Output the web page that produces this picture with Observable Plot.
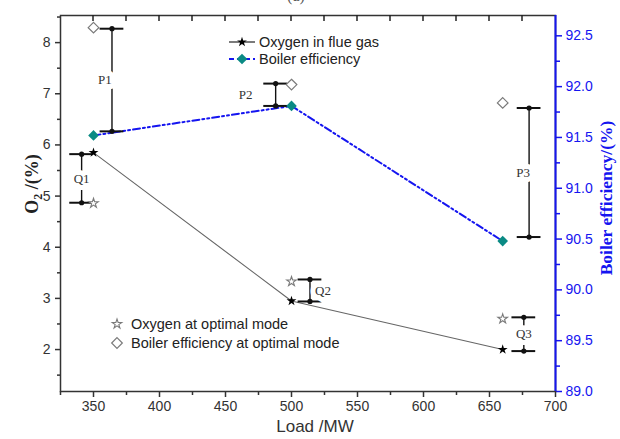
<!DOCTYPE html>
<html>
<head>
<meta charset="utf-8">
<script src="https://cdn.jsdelivr.net/npm/d3@7"></script>
<script src="https://cdn.jsdelivr.net/npm/@observablehq/plot@0.6"></script>
<style>
  body { margin: 0; background: #fff; }
  #chart svg { display: block; }
</style>
</head>
<body>
<div id="chart"></div>
<script>
// Unit load (MW) of the three test cases
const loads = [350, 500, 660];
// Measured O2 in flue gas (%) and boiler efficiency (%)
const o2Actual = [5.85, 2.95, 2.00];
const effActual = [91.52, 91.81, 90.48];
// The same quantities at the optimal operating mode
const o2Optimal = [4.86, 3.33, 2.60];
const effOptimal = [92.58, 92.02, 91.84];

// Bracket annotations: P = efficiency gain, Q = oxygen reduction
const bracketNames = ["P1", "P2", "P3", "Q1", "Q2", "Q3"];
const bracketLoads = [364, 488, 680, 341, 514, 676];
const bracketHigh = [92.57, 92.03, 91.79, 5.82, 3.37, 2.63];
const bracketLow = [91.56, 91.81, 90.52, 4.87, 2.94, 1.97];
const bracketAxis = ["eff", "eff", "eff", "o2", "o2", "o2"];

// Axis ticks
const xTicks = [350, 400, 450, 500, 550, 600, 650, 700];
const o2Ticks = [2, 3, 4, 5, 6, 7, 8];
const effTicks = [89.0, 89.5, 90.0, 90.5, 91.0, 91.5, 92.0, 92.5];

const xDomain = [325, 700];
const o2Domain = [1.18, 8.53];
const effDomain = [89.0, 92.7];

// The efficiency axis on the right shares the plot's y scale through this map
const effToO2 = d3.scaleLinear().domain(effDomain).range(o2Domain);

const xMinor = d3.range(325, 700, 50);
const xTop = d3.range(350, 700, 25);
const o2Minor = d3.range(1.5, 8.6, 1);
const effMinor = d3.range(89.25, 92.5, 0.5);

const rows = loads.map((load, i) => ({
  load,
  o2: o2Actual[i],
  eff: effToO2(effActual[i]),
  o2Opt: o2Optimal[i],
  effOpt: effToO2(effOptimal[i])
}));

const brackets = bracketNames.map((name, i) => {
  const toY = bracketAxis[i] === "eff" ? effToO2 : (v) => v;
  const hi = toY(bracketHigh[i]), lo = toY(bracketLow[i]);
  return {name, load: bracketLoads[i], hi, lo, mid: (hi + lo) / 2};
});
const bracketEnds = brackets.flatMap((b) => [{load: b.load, y: b.hi}, {load: b.load, y: b.lo}]);
const capHalf = 9; // half-width of a bracket cap, in MW
const labelShift = {P1: -7, P2: -30, P3: -6, Q1: 0, Q2: 13, Q3: 0};

const W = 620, H = 439;
const M = {top: 15, right: 65, bottom: 48, left: 60};

const ink = "#333";
const blue = "#1515f0";
const teal = "#0a8a84";
const hollow = "#7a7a7a";
const effDash = "7,3,2,3,2,3";

const chart = Plot.plot({
  width: W,
  height: H,
  marginTop: M.top,
  marginRight: M.right,
  marginBottom: M.bottom,
  marginLeft: M.left,
  x: {domain: xDomain},
  y: {domain: o2Domain},
  style: {fontFamily: "'Liberation Sans', Arial, sans-serif", fontSize: "14px", background: "#fff", overflow: "visible"},
  marks: [
    // bottom axis
    Plot.axisX({ticks: xTicks, tickSize: 6, tickPadding: 4, color: ink, strokeWidth: 1.5, label: null}),
    Plot.axisX({ticks: xMinor, tickSize: 4, stroke: ink, fill: "none", strokeWidth: 1.5, label: null}),
    // left axis: O2
    Plot.axisY({ticks: o2Ticks, tickSize: 5, tickPadding: 5, color: ink, strokeWidth: 1.5, label: null}),
    Plot.axisY({ticks: o2Minor, tickSize: 3, stroke: ink, fill: "none", strokeWidth: 1.5, label: null}),
    // right axis: boiler efficiency
    Plot.axisY({
      anchor: "right", ticks: effTicks.map(effToO2), tickSize: 6, tickPadding: 4,
      tickFormat: (d) => d3.format(".1f")(effToO2.invert(d)), color: blue, strokeWidth: 1.5, label: null
    }),
    Plot.axisY({anchor: "right", ticks: effMinor.map(effToO2), tickSize: 4, stroke: blue, fill: "none", strokeWidth: 1.5, label: null}),
    Plot.frame({stroke: ink, strokeWidth: 1.5}),
    Plot.ruleX([xDomain[1]], {stroke: blue, strokeWidth: 2}),

    // oxygen in flue gas
    Plot.line(rows, {x: "load", y: "o2", stroke: "#666", strokeWidth: 1.1}),
    // boiler efficiency
    Plot.line(rows, {x: "load", y: "eff", stroke: blue, strokeWidth: 2, strokeDasharray: effDash}),

    // brackets
    Plot.ruleX(brackets, {x: "load", y1: "lo", y2: "hi", stroke: "#111", strokeWidth: 1.4}),
    Plot.ruleY(bracketEnds, {y: "y", x1: (d) => d.load - capHalf, x2: (d) => d.load + capHalf, stroke: "#111", strokeWidth: 2}),
    Plot.dot(bracketEnds, {x: "load", y: "y", r: 2.6, fill: "#111"}),
    Plot.text(brackets, {
      x: "load", y: "mid", text: "name", fontFamily: "'Liberation Serif', 'Times New Roman', serif",
      fontSize: 13, fill: "#333", stroke: "#fff", strokeWidth: 10, paintOrder: "stroke"
    }),

    // optimal-mode markers
    Plot.dot(rows, {x: "load", y: "o2Opt", symbol: "star", r: 3.0, fill: "#fff", stroke: hollow, strokeWidth: 1.1}),
    Plot.dot(rows, {x: "load", y: "effOpt", symbol: "diamond2", r: 4.8, fill: "#fff", stroke: hollow, strokeWidth: 1.2}),

    // measured markers
    Plot.dot(rows, {x: "load", y: "o2", symbol: "star", r: 3.1, fill: "#000"}),
    Plot.dot(rows, {x: "load", y: "eff", symbol: "diamond2", r: 4.8, fill: teal})
  ]
});

document.getElementById("chart").appendChild(chart);

// Per-label horizontal offsets for the bracket names
d3.select(chart).selectAll("text").filter(function () {
  return Object.prototype.hasOwnProperty.call(labelShift, this.textContent);
}).attr("transform", function () {
  const t = this.getAttribute("transform") || "";
  return t + ` translate(${labelShift[this.textContent]},0)`;
});

const svg = d3.select(chart);
const xScale = chart.scale("x");

// short inward ticks hanging from the top edge, placed with the x scale
svg.append("g").attr("stroke", "#222").attr("stroke-width", 1.5)
  .selectAll("line").data(xTop).join("line")
  .attr("x1", (d) => xScale.apply(d)).attr("x2", (d) => xScale.apply(d))
  .attr("y1", M.top).attr("y2", M.top + 6);

const serif = "'Liberation Serif', 'Times New Roman', serif";
const sans = "'Liberation Sans', Arial, sans-serif";

// panel tag, mostly above the drawing area
svg.append("text").attr("x", 296).attr("y", 1).attr("text-anchor", "middle")
  .attr("font-family", serif).attr("font-size", 16).attr("fill", "#555").text("(a)");

// axis titles
svg.append("text").attr("x", 315).attr("y", 432).attr("text-anchor", "middle")
  .attr("font-family", sans).attr("font-size", 17).attr("fill", ink).text("Load /MW");

const yTitle = svg.append("text")
  .attr("transform", "translate(38,184) rotate(-90)").attr("text-anchor", "middle")
  .attr("font-family", serif).attr("font-size", 18).attr("font-weight", "bold").attr("fill", "#222");
yTitle.append("tspan").text("O");
yTitle.append("tspan").attr("font-size", 12).attr("dy", 4).text("2");
yTitle.append("tspan").attr("dy", -4).text(" /(%)");

svg.append("text")
  .attr("transform", "translate(612,198) rotate(-90)").attr("text-anchor", "middle")
  .attr("font-family", serif).attr("font-size", 17.5).attr("font-weight", "bold").attr("fill", blue)
  .text("Boiler efficiency/(%)");

// legends
const star = (r) => d3.symbol(d3.symbolStar, r * r * Math.PI)();
const diamond = (r) => d3.symbol(d3.symbolDiamond2, r * r * Math.PI)();
const legend = svg.append("g").attr("font-family", sans).attr("font-size", 14.5)
  .attr("fill", "#222").attr("text-anchor", "start");

const l1 = legend.append("g").attr("transform", "translate(229,42)");
l1.append("line").attr("x1", 0).attr("x2", 26).attr("stroke", "#222").attr("stroke-width", 1.2);
l1.append("path").attr("d", star(3.1)).attr("transform", "translate(13,0)").attr("fill", "#000");
l1.append("text").attr("x", 30).attr("dy", "0.35em").text("Oxygen in flue gas");

const l2 = legend.append("g").attr("transform", "translate(229,59)");
l2.append("line").attr("x1", 0).attr("x2", 26).attr("stroke", blue).attr("stroke-width", 2).attr("stroke-dasharray", "5,3");
l2.append("path").attr("d", diamond(4.8)).attr("transform", "translate(13,0)").attr("fill", teal);
l2.append("text").attr("x", 30).attr("dy", "0.35em").text("Boiler efficiency");

const l3 = legend.append("g").attr("transform", "translate(117,324)");
l3.append("path").attr("d", star(3.0)).attr("fill", "#fff").attr("stroke", hollow).attr("stroke-width", 1.1);
l3.append("text").attr("x", 14).attr("dy", "0.35em").text("Oxygen at optimal mode");

const l4 = legend.append("g").attr("transform", "translate(117,343)");
l4.append("path").attr("d", diamond(4.8)).attr("fill", "#fff").attr("stroke", hollow).attr("stroke-width", 1.2);
l4.append("text").attr("x", 14).attr("dy", "0.35em").text("Boiler efficiency at optimal mode");
</script>
</body>
</html>
